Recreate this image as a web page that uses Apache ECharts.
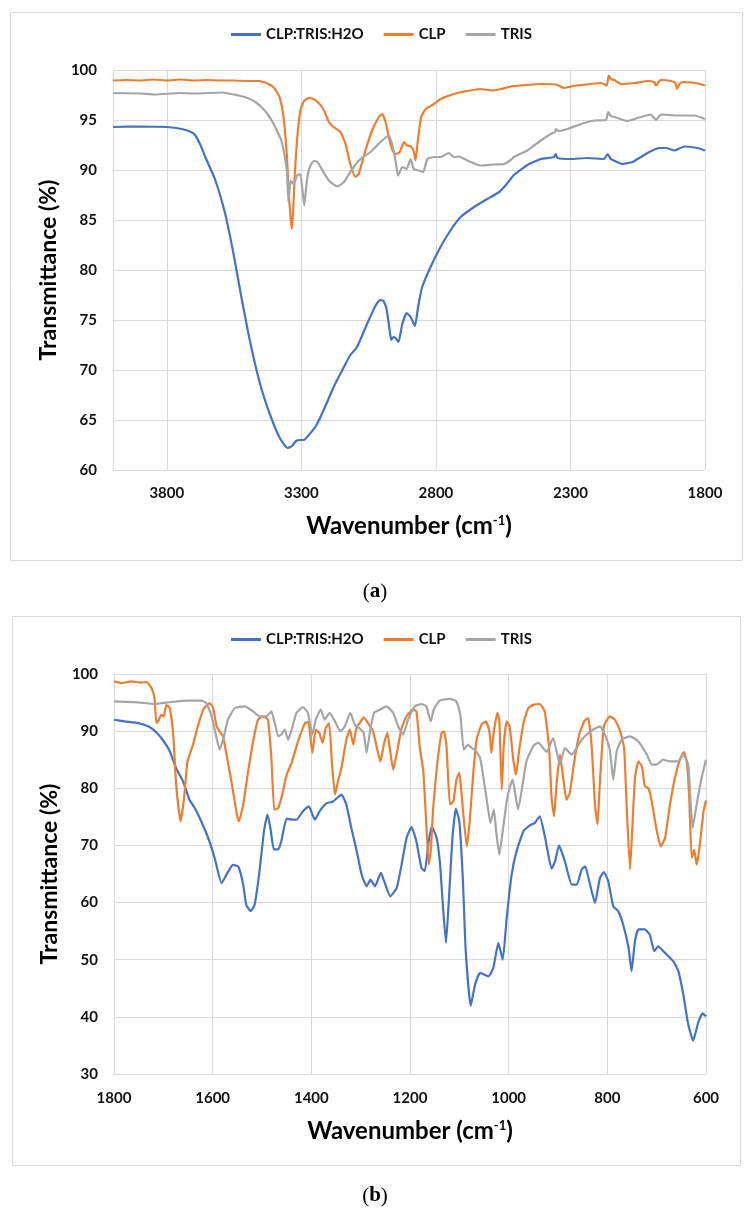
<!DOCTYPE html>
<html><head><meta charset="utf-8">
<script src="https://cdn.jsdelivr.net/npm/echarts@6/dist/echarts.min.js"></script>
<style>html,body{margin:0;padding:0;background:#fff}#c{width:750px;height:1218px}</style>
</head><body><div id="c"></div>
<script>
// ---------- categories / legend ----------
const seriesNames = ['CLP:TRIS:H2O', 'CLP', 'TRIS'];
const panelLabels = ['a', 'b'];
// ---------- tick definitions ----------
const aXStart = 1800, aXEnd = 4000, aXStep = 500;   // panel (a) wavenumber axis
const aYMin = 60, aYMax = 100, aYStep = 5;
const bXStart = 600, bXEnd = 1800, bXStep = 200;    // panel (b)
const bYMin = 30, bYMax = 100, bYStep = 10;

// ---------- panel (a): [wavenumber, transmittance] ----------
const aMix = [[4000,94.3],[3900,94.35],[3800,94.3],[3744,94.1],[3710,93.8],[3695,93.5],[3675,92.5],[3657,91.3],[3620,89.0],[3583,85.6],[3552,81.6],[3521,77.0],[3484,72.0],[3447,68.0],[3409,65.0],[3378,63.1],[3351,62.2],[3335,62.4],[3320,62.9],[3305,63.0],[3290,63.0],[3279,63.3],[3248,64.3],[3217,66.0],[3180,68.3],[3142,70.3],[3118,71.5],[3093,72.3],[3056,74.6],[3025,76.4],[3008,77.0],[2995,76.9],[2984,76.2],[2972,74.0],[2966,73.0],[2958,73.3],[2950,73.2],[2939,72.8],[2925,74.6],[2909,75.7],[2894,75.3],[2878,74.4],[2865,76.5],[2851,78.3],[2820,80.3],[2783,82.3],[2745,84.0],[2708,85.3],[2658,86.3],[2609,87.1],[2565,87.8],[2540,88.5],[2510,89.5],[2460,90.5],[2410,91.1],[2361,91.3],[2355,91.6],[2348,91.2],[2299,91.1],[2237,91.2],[2175,91.1],[2162,91.6],[2150,91.1],[2143,91.0],[2106,90.6],[2069,90.8],[2038,91.3],[2007,91.8],[1970,92.2],[1945,92.2],[1914,91.95],[1877,92.35],[1827,92.2],[1800,91.95]];
const aCLP = [[4000,98.95],[3950,99.0],[3900,98.95],[3850,99.05],[3800,98.95],[3750,99.05],[3700,98.95],[3650,99.0],[3600,98.95],[3550,98.95],[3500,98.9],[3459,98.9],[3440,98.8],[3422,98.6],[3405,98.3],[3391,97.8],[3380,97.2],[3372,96.3],[3365,95.0],[3360,93.6],[3354,91.5],[3350,89.3],[3345,87.0],[3341,85.6],[3336,84.1],[3331,85.6],[3325,89.3],[3316,93.0],[3304,95.9],[3290,96.9],[3273,97.2],[3255,97.1],[3240,96.8],[3223,96.3],[3210,95.6],[3198,94.8],[3180,94.3],[3155,93.8],[3136,92.6],[3118,90.6],[3099,89.3],[3087,89.6],[3062,91.95],[3037,93.95],[3012,95.3],[3000,95.6],[2987,94.8],[2975,93.3],[2962,92.0],[2950,91.6],[2934,91.8],[2919,92.8],[2907,92.45],[2892,92.35],[2882,91.8],[2876,90.95],[2867,92.95],[2855,95.3],[2838,96.1],[2807,96.6],[2783,97.1],[2733,97.6],[2683,97.9],[2634,98.1],[2590,97.95],[2560,98.1],[2522,98.35],[2485,98.45],[2410,98.6],[2354,98.55],[2323,98.2],[2300,98.35],[2274,98.45],[2187,98.7],[2165,98.45],[2158,99.45],[2150,99.1],[2137,99.0],[2112,98.6],[2063,98.7],[2013,98.9],[1990,98.8],[1982,98.45],[1970,98.9],[1964,99.0],[1926,98.9],[1910,98.7],[1904,98.1],[1895,98.6],[1883,98.8],[1839,98.7],[1820,98.6],[1800,98.45]];
const aTRIS = [[4000,97.7],[3900,97.65],[3844,97.55],[3750,97.7],[3700,97.65],[3595,97.75],[3533,97.45],[3500,97.2],[3471,96.8],[3445,96.2],[3422,95.45],[3405,94.7],[3391,93.95],[3375,93.0],[3366,91.95],[3358,90.8],[3353,89.6],[3348,86.8],[3344,88.0],[3340,88.95],[3335,88.8],[3329,88.6],[3322,89.0],[3316,89.45],[3304,89.6],[3296,88.0],[3289,86.45],[3282,88.3],[3276,89.6],[3265,90.5],[3254,90.9],[3240,90.8],[3229,90.3],[3198,88.95],[3167,88.35],[3142,88.8],[3111,90.1],[3080,91.1],[3043,91.8],[3006,92.8],[2975,93.45],[2963,92.6],[2950,90.95],[2941,89.45],[2925,90.3],[2909,90.1],[2894,91.1],[2882,90.1],[2863,89.95],[2847,89.8],[2832,91.1],[2807,91.3],[2783,91.3],[2752,91.7],[2733,91.3],[2714,91.35],[2683,90.95],[2634,90.45],[2584,90.55],[2547,90.6],[2522,91.0],[2510,91.3],[2460,91.95],[2410,92.95],[2373,93.6],[2357,93.8],[2354,94.1],[2345,93.9],[2311,94.1],[2261,94.6],[2212,94.95],[2168,95.0],[2160,95.8],[2150,95.4],[2137,95.3],[2088,94.9],[2038,95.3],[2001,95.55],[1982,95.0],[1964,95.55],[1902,95.45],[1839,95.45],[1800,95.1]];

// ---------- panel (b) ----------
const bMix = [[1800,92.0],[1778,91.7],[1751,91.4],[1731,90.85],[1718,90.1],[1704,88.8],[1687,86.5],[1674,83.5],[1660,81.2],[1647,78.0],[1636,76.5],[1623,74.2],[1609,71.3],[1596,67.8],[1582,63.4],[1570,65.2],[1559,66.6],[1548,66.3],[1538,63.1],[1532,59.6],[1523,58.5],[1515,59.6],[1505,65.5],[1496,72.5],[1489,75.4],[1483,73.1],[1476,69.3],[1467,69.3],[1461,70.7],[1450,74.7],[1440,74.5],[1430,74.5],[1417,76.0],[1405,76.85],[1393,74.5],[1383,76.0],[1369,77.4],[1356,77.7],[1339,78.9],[1329,77.15],[1319,73.1],[1308,69.0],[1298,64.9],[1288,62.85],[1280,64.0],[1271,62.85],[1259,65.2],[1251,63.4],[1240,61.1],[1227,62.55],[1217,66.65],[1207,71.3],[1197,73.2],[1187,70.7],[1177,66.1],[1170,65.5],[1163,70.15],[1156,73.35],[1146,71.3],[1139,66.65],[1133,59.05],[1127,52.95],[1121,60.8],[1114,71.3],[1107,76.45],[1100,74.2],[1093,64.3],[1087,51.5],[1077,41.9],[1068,45.65],[1058,47.7],[1041,47.1],[1031,48.6],[1021,52.95],[1012,50.0],[1004,57.3],[994,64.9],[984,69.0],[970,72.5],[957,73.5],[947,73.95],[937,75.1],[926,71.3],[913,65.95],[906,67.2],[898,70.0],[886,67.2],[872,63.15],[862,63.15],[852,65.8],[845,66.35],[835,63.15],[825,59.95],[815,64.3],[807,65.35],[798,63.7],[788,59.35],[778,58.5],[768,56.15],[757,52.1],[751,48.0],[744,53.25],[737,55.3],[724,55.3],[714,54.4],[705,51.5],[697,52.35],[683,51.2],[666,49.7],[656,48.0],[646,43.9],[636,38.65],[626,35.85],[616,38.95],[607,40.6],[600,40.1]];
const bCLP = [[1800,98.7],[1785,98.4],[1765,98.7],[1745,98.5],[1734,98.6],[1724,97.55],[1718,95.8],[1714,91.4],[1709,92.0],[1704,92.9],[1699,92.6],[1694,94.6],[1687,94.05],[1680,89.4],[1674,80.65],[1665,74.2],[1658,78.3],[1651,84.7],[1640,87.6],[1630,90.85],[1619,93.8],[1606,94.9],[1599,94.05],[1592,90.85],[1586,89.95],[1579,89.1],[1572,85.9],[1562,81.2],[1552,75.95],[1547,74.2],[1538,77.15],[1528,83.0],[1518,88.2],[1508,92.0],[1498,92.6],[1488,92.0],[1481,85.3],[1475,76.25],[1467,76.55],[1459,78.9],[1450,82.4],[1440,84.45],[1427,88.2],[1413,91.4],[1406,91.6],[1398,86.2],[1391,90.25],[1384,89.7],[1377,87.95],[1371,90.55],[1364,91.4],[1358,84.15],[1352,78.9],[1346,81.2],[1339,83.55],[1329,88.5],[1322,90.25],[1315,87.65],[1308,90.85],[1302,91.4],[1294,92.4],[1285,91.4],[1275,89.95],[1267,87.05],[1260,84.7],[1253,87.65],[1246,89.7],[1241,87.05],[1234,83.25],[1226,86.5],[1217,90.55],[1207,92.6],[1194,93.75],[1187,93.45],[1180,87.05],[1173,83.0],[1168,75.4],[1162,66.65],[1158,69.0],[1153,76.55],[1145,84.15],[1136,89.7],[1131,89.95],[1126,87.35],[1119,77.15],[1112,77.75],[1106,81.5],[1100,82.7],[1096,79.5],[1085,69.85],[1079,74.2],[1072,82.4],[1065,88.5],[1055,91.15],[1046,91.7],[1039,89.95],[1035,86.2],[1030,89.95],[1023,93.2],[1019,92.0],[1014,79.75],[1010,87.5],[1004,91.7],[998,90.8],[991,85.3],[985,82.4],[979,86.5],[970,91.4],[960,94.05],[950,94.6],[937,94.75],[927,93.45],[918,87.05],[913,78.3],[908,75.1],[903,80.65],[896,85.9],[889,81.5],[883,78.0],[876,79.2],[868,84.15],[857,89.4],[847,91.7],[839,92.3],[832,87.65],[825,77.15],[820,73.65],[815,81.2],[807,90.85],[795,92.6],[785,92.0],[775,90.25],[766,87.05],[761,77.15],[754,65.8],[749,73.65],[744,81.8],[737,84.7],[730,83.85],[724,80.35],[717,80.05],[710,77.75],[701,73.1],[692,69.85],[683,71.3],[673,77.15],[663,81.8],[653,85.0],[645,86.35],[639,84.7],[634,78.3],[629,67.8],[624,69.25],[619,66.65],[614,69.0],[605,75.95],[600,77.85]];
const bTRIS = [[1800,95.2],[1751,95.05],[1718,94.75],[1684,95.1],[1650,95.35],[1623,95.35],[1613,94.9],[1603,92.9],[1592,88.8],[1586,86.75],[1579,88.5],[1569,92.0],[1555,94.05],[1535,94.35],[1518,93.45],[1505,92.6],[1491,92.6],[1481,93.45],[1474,91.4],[1467,89.1],[1461,89.4],[1454,90.25],[1447,88.5],[1440,90.25],[1430,93.2],[1417,94.2],[1407,93.2],[1398,89.4],[1391,92.0],[1381,93.75],[1373,92.0],[1363,93.2],[1352,91.7],[1341,89.95],[1332,90.85],[1321,93.2],[1312,91.15],[1303,90.55],[1294,89.7],[1288,86.2],[1281,89.95],[1273,93.2],[1261,93.75],[1248,94.35],[1234,93.2],[1224,90.85],[1214,89.4],[1204,92.0],[1190,94.35],[1177,94.75],[1167,94.35],[1158,91.7],[1152,93.75],[1140,95.35],[1119,95.65],[1106,95.2],[1098,92.9],[1091,86.75],[1082,87.65],[1075,87.05],[1069,86.75],[1058,85.3],[1052,82.4],[1043,77.15],[1037,73.95],[1030,76.25],[1025,72.2],[1019,68.4],[1012,72.5],[1004,77.75],[998,80.05],[992,81.5],[981,76.3],[964,84.7],[950,87.4],[940,88.0],[923,86.35],[910,88.8],[896,84.15],[886,87.05],[872,85.9],[852,88.5],[829,90.25],[815,90.85],[805,89.4],[795,86.75],[788,81.5],[781,86.5],[771,88.5],[754,89.1],[737,88.2],[720,85.9],[710,84.15],[700,84.15],[687,85.0],[673,84.7],[656,84.7],[646,85.9],[636,84.15],[631,77.15],[627,73.1],[619,77.15],[609,81.8],[600,85.0]];

const colors = ['#4472C4', '#ED7D31', '#A5A5A5'];
const gridColor = '#d9d9d9';
const font = 'Lato';

const tickLabel = { fontFamily: font, fontSize: 15, fontWeight: 'bold', color: '#111', margin: 16 };
const xName = '{t|Wavenumber (cm}{s|-1}{t|)}';
const xNameStyle = { rich: {
  t: { fontFamily: font, fontSize: 24, fontWeight: 'bold', color: '#000' },
  s: { fontFamily: font, fontSize: 13, fontWeight: 'bold', color: '#000', padding: [0, 0, 12, 0] }
}};
const yNameStyle = { fontFamily: font, fontSize: 23, fontWeight: 'bold', color: '#000' };
const split = { show: true, lineStyle: { color: gridColor, width: 1 } };

function mk(name, data, xi, yi, color) {
  return { type: 'line', name, data, xAxisIndex: xi, yAxisIndex: yi, symbol: 'none', showSymbol: false,
    smooth: 0.15, lineStyle: { width: 2.2, color }, itemStyle: { color }, emphasis: { disabled: true } };
}
function legend(top) {
  return { top, left: 231, padding: 0, icon: 'rect', itemWidth: 30, itemHeight: 3, itemGap: 20, data: seriesNames,
    selectedMode: false, textStyle: { fontFamily: font, fontSize: 15, fontWeight: 'bold', color: '#111' } };
}
function caption(letter, y) {
  return { type: 'text', x: 375, y, silent: true, style: {
    text: '{p|(}{b|' + letter + '}{p|)}', align: 'center', verticalAlign: 'middle',
    rich: { p: { fontFamily: 'Liberation Serif', fontSize: 21, fill: '#000' },
            b: { fontFamily: 'Liberation Serif', fontSize: 21, fontWeight: 'bold', fill: '#000' } } } };
}

const chart = echarts.init(document.getElementById('c'));
chart.setOption({
  animation: false,
  backgroundColor: '#fff',
  legend: [legend(27), legend(632)],
  grid: [
    { left: 113, top: 70, width: 592, height: 400 },
    { left: 114, top: 674, width: 592, height: 400 }
  ],
  xAxis: [
    { gridIndex: 0, type: 'value', min: aXStart, max: aXEnd, inverse: true, show: false },
    { gridIndex: 0, type: 'value', position: 'bottom', min: 0, max: aXEnd - aXStart, interval: aXStep, inverse: true,
      axisLine: { show: false, onZero: false }, axisTick: { show: false }, splitLine: split,
      axisLabel: Object.assign({}, tickLabel, { formatter: v => (v === aXEnd - aXStart ? '' : String(v + aXStart)) }),
      name: xName, nameLocation: 'middle', nameGap: 44, nameTextStyle: xNameStyle },
    { gridIndex: 1, type: 'value', min: bXStart, max: bXEnd, interval: bXStep, inverse: true,
      axisLine: { show: false, onZero: false }, axisTick: { show: false }, splitLine: split,
      axisLabel: Object.assign({}, tickLabel, { margin: 17, formatter: v => String(v) }),
      name: xName, nameLocation: 'middle', nameGap: 45, nameTextStyle: xNameStyle }
  ],
  yAxis: [
    { gridIndex: 0, type: 'value', min: aYMin, max: aYMax, interval: aYStep,
      axisLine: { show: false, onZero: false }, axisTick: { show: false }, splitLine: split,
      axisLabel: tickLabel, name: 'Transmittance (%)', nameLocation: 'middle', nameGap: 53, nameTextStyle: yNameStyle },
    { gridIndex: 1, type: 'value', min: bYMin, max: bYMax, interval: bYStep,
      axisLine: { show: false, onZero: false }, axisTick: { show: false }, splitLine: split,
      axisLabel: tickLabel, name: 'Transmittance (%)', nameLocation: 'middle', nameGap: 53, nameTextStyle: yNameStyle }
  ],
  graphic: [
    { type: 'rect', silent: true, shape: { x: 10.5, y: 12.5, width: 732, height: 548 }, style: { fill: 'none', stroke: gridColor, lineWidth: 1 } },
    { type: 'rect', silent: true, shape: { x: 12.5, y: 616.5, width: 728, height: 549 }, style: { fill: 'none', stroke: gridColor, lineWidth: 1 } },
    caption(panelLabels[0], 592),
    caption(panelLabels[1], 1196)
  ],
  series: [
    mk(seriesNames[0], aMix, 0, 0, colors[0]),
    mk(seriesNames[1], aCLP, 0, 0, colors[1]),
    mk(seriesNames[2], aTRIS, 0, 0, colors[2]),
    mk(seriesNames[0], bMix, 2, 1, colors[0]),
    mk(seriesNames[1], bCLP, 2, 1, colors[1]),
    mk(seriesNames[2], bTRIS, 2, 1, colors[2])
  ]
});
</script></body></html>
